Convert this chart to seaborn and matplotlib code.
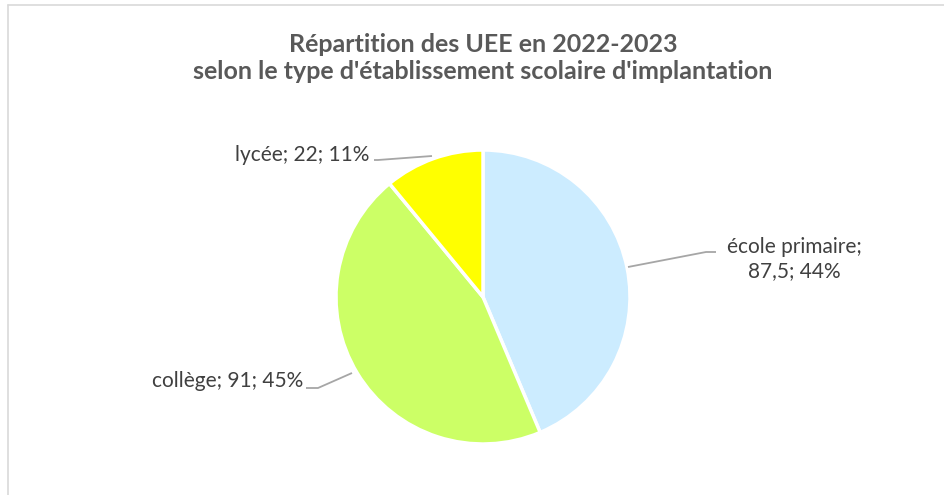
import matplotlib
matplotlib.use('Agg')
import matplotlib.pyplot as plt
import numpy as np
import seaborn as sns
from matplotlib.lines import Line2D

# data
categories = ['école primaire', 'collège', 'lycée']
values = [87.5, 91, 22]
value_labels = ['87,5', '91', '22']
colors = ['#CCECFF', '#CCFF66', '#FFFF00']

title = "Répartition des UEE en 2022-2023\nselon le type d'établissement scolaire d'implantation"

sns.set_theme(style='white')
plt.rcParams['font.family'] = ['Lato', 'DejaVu Sans']

W, H = 944, 495
fig = plt.figure(figsize=(W / 100, H / 100), dpi=100)
ax = fig.add_axes([0, 0, 1, 1])

cx, cy, r = 483, 297, 147  # pie centre and radius in pixels

wedges, _ = ax.pie(values, colors=colors, startangle=90, counterclock=False,
                   wedgeprops={'edgecolor': 'white', 'linewidth': 2.5})
ax.set_xlim(-cx / r, (W - cx) / r)
ax.set_ylim(-(H - cy) / r, cy / r)
ax.set_aspect('auto')
ax.axis('off')

total = sum(values)
pcts = [round(v / total * 100) for v in values]

label_texts = [
    '{};\n{}; {}%'.format(categories[0], value_labels[0], pcts[0]),
    '{}; {}; {}%'.format(categories[1], value_labels[1], pcts[1]),
    '{}; {}; {}%'.format(categories[2], value_labels[2], pcts[2]),
]
# leader line points (edge, elbow, text end) in pixel coords
leaders = [
    [(628, 267), (706, 252), (716, 252)],
    [(352, 373), (318, 388), (306, 388)],
    [(432, 156), (378, 160), (374, 160)],
]
text_pos = [(794, 259, 'center', 'center'),
            (303, 381, 'right', 'center'),
            (369, 155, 'right', 'center')]


def px(x, y):
    return (x - cx) / r, (cy - y) / r


for pts, (tx, ty, ha, va), txt in zip(leaders, text_pos, label_texts):
    xs, ys = zip(*[px(*p) for p in pts])
    ax.plot(xs, ys, color='#A6A6A6', lw=1.3, solid_capstyle='butt')
    ax.text(*px(tx, ty), txt, ha=ha, va=va, fontsize=15, color='#404040',
            linespacing=1.3, multialignment='center')

fig.text(cx / W, 1 - 58 / H, title, ha='center', va='center', fontsize=18,
         fontweight='bold', color='#595959', linespacing=1.25)

# chart area frame (top and left visible)
fig.add_artist(Line2D([7.5 / W, 1], [1 - 4.5 / H, 1 - 4.5 / H], color='#D9D9D9', lw=1.2,
                      transform=fig.transFigure))
fig.add_artist(Line2D([7.5 / W, 7.5 / W], [0, 1 - 4.5 / H], color='#D9D9D9', lw=1.2,
                      transform=fig.transFigure))

fig.savefig('out.png', dpi=100)
